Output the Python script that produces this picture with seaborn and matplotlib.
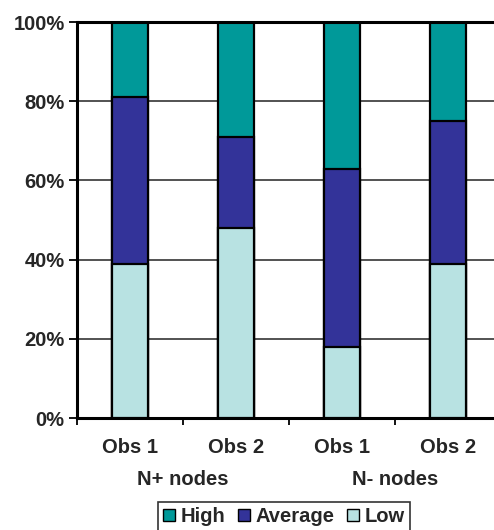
import matplotlib
matplotlib.use("Agg")
import matplotlib.pyplot as plt
import seaborn as sns
import pandas as pd
from matplotlib.patches import Patch

# values (percent)
bar_ids = ["N+ Obs 1", "N+ Obs 2", "N- Obs 1", "N- Obs 2"]
obs_labels = ["Obs 1", "Obs 2", "Obs 1", "Obs 2"]
group_labels = ["N+ nodes", "N- nodes"]
low = [39, 48, 18, 39]
average = [42, 23, 45, 36]
high = [19, 29, 37, 25]

col_high = "#009999"
col_avg = "#333399"
col_low = "#B8E2E2"

df = pd.DataFrame({"bar": bar_ids, "Low": low, "Average": average, "High": high})
df["cum_avg"] = df["Low"] + df["Average"]
df["cum_high"] = df["cum_avg"] + df["High"]

sns.set_style("white")
plt.rcParams["font.family"] = ["Liberation Sans", "DejaVu Sans"]
plt.rcParams["font.weight"] = "bold"
FS = 14.5

W, H = 494, 530
fig = plt.figure(figsize=(W / 100, H / 100), dpi=100)
ax = fig.add_axes([77 / W, 1 - 418 / H, 424 / W, 396 / H])

for col, c in [("cum_high", col_high), ("cum_avg", col_avg), ("Low", col_low)]:
    sns.barplot(data=df, x="bar", y=col, color=c, width=0.34, order=bar_ids,
                edgecolor="black", linewidth=1.6, saturation=1, ax=ax, zorder=3)

ax.set_xlim(-0.5, 3.5)
ax.set_ylim(0, 100)
ax.set_xlabel("")
ax.set_ylabel("")

# gridlines
for v in [20, 40, 60, 80]:
    ax.axhline(v, color="#444444", lw=1.3, zorder=1)
ax.axhline(100, color="black", lw=2.2, zorder=4, clip_on=False)

ax.set_yticks([0, 20, 40, 60, 80, 100])
ax.set_yticklabels([f"{v}%" for v in [0, 20, 40, 60, 80, 100]], fontsize=FS, fontweight="bold")
ax.set_xticks([-0.5, 0.5, 1.5, 2.5, 3.5])
ax.set_xticklabels([])
ax.tick_params(axis="y", direction="out", length=6, width=1.3, color="black", left=True, pad=3)
ax.tick_params(axis="x", direction="out", length=5, width=1.3, color="black", bottom=True)

for s in ["top", "right"]:
    ax.spines[s].set_visible(False)
for s in ["left", "bottom"]:
    ax.spines[s].set_color("black")
    ax.spines[s].set_linewidth(2.2)

# category labels
for i, lab in enumerate(obs_labels):
    ax.text(i, -7.4, lab, ha="center", va="center", fontsize=FS, fontweight="bold",
            clip_on=False)
for j, lab in enumerate(group_labels):
    ax.text(0.5 + 2 * j, -15.5, lab, ha="center", va="center", fontsize=FS,
            fontweight="bold", clip_on=False)

handles = [Patch(facecolor=col_high, edgecolor="black", label="High"),
           Patch(facecolor=col_avg, edgecolor="black", label="Average"),
           Patch(facecolor=col_low, edgecolor="black", label="Low")]
leg = fig.legend(handles=handles, loc="upper center", bbox_to_anchor=(284 / W, 1 - 502 / H),
                 ncol=3, frameon=True, fancybox=False, edgecolor="black",
                 prop={"size": FS, "weight": "bold"}, handlelength=0.6, handleheight=0.6,
                 handletextpad=0.3, columnspacing=0.6, borderpad=0.25, borderaxespad=0)
leg.get_frame().set_linewidth(1.2)

fig.savefig("out.png", dpi=100)
